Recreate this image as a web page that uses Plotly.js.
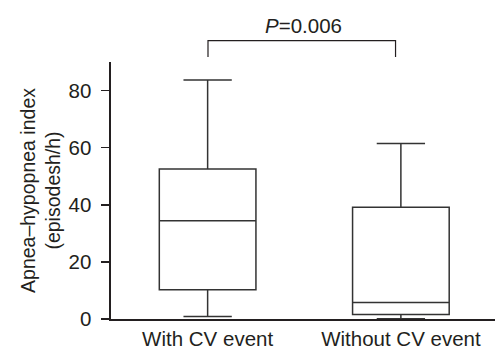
<!DOCTYPE html>
<html>
<head>
<meta charset="utf-8">
<script src="https://cdn.plot.ly/plotly-3.0.1.min.js"></script>
<style>html,body{margin:0;padding:0;background:#fff;}#chart{width:497px;height:350px;}</style>
</head>
<body>
<div id="chart"></div>
<script>
const categories = ["With CV event", "Without CV event"];
const q1 = [10.2, 1.6];
const medians = [34.4, 5.8];
const q3 = [52.5, 39.1];
const lowerFence = [0.9, 0.1];
const upperFence = [83.7, 61.5];
const yTicks = [0, 20, 40, 60, 80];
const pLabel = "<i>P</i>=0.006";

const txt = "#231f20";
const lineCol = "#333333";
const fontFam = "Liberation Sans, Arial, Helvetica, sans-serif";

const trace = {
  type: "box",
  x: categories,
  q1: q1,
  median: medians,
  q3: q3,
  lowerfence: lowerFence,
  upperfence: upperFence,
  width: 0.5,
  whiskerwidth: 0.5,
  fillcolor: "rgba(255,255,255,0)",
  line: {color: lineCol, width: 1.5},
  hoverinfo: "skip",
  showlegend: false
};

const layout = {
  width: 497, height: 350,
  margin: {l: 111, r: 2, t: 62, b: 31},
  paper_bgcolor: "#fff", plot_bgcolor: "#fff",
  font: {family: fontFam, color: txt, size: 20},
  xaxis: {
    type: "category",
    range: [-0.5, 1.487],
    showline: true, linecolor: txt, linewidth: 2,
    ticks: "", showgrid: false, zeroline: false,
    tickfont: {size: 20.5, color: txt}
  },
  yaxis: {
    range: [0, 90],
    tickvals: yTicks,
    ticktext: yTicks.map(String),
    showline: true, linecolor: txt, linewidth: 2.5,
    ticks: "outside", ticklen: 8, tickwidth: 1.5, tickcolor: txt,
    showgrid: false, zeroline: false,
    tickfont: {size: 20.5, color: txt},
    ticklabelstandoff: 5,
    title: {text: "Apnea–hypopnea index<br>(episodesh/h)", font: {size: 19.5, color: txt}, standoff: 3}
  },
  shapes: [
    {type: "path", xref: "paper", yref: "paper",
     path: "M 0.2526 1.019 L 0.2526 1.083 L 0.741 1.083 L 0.741 1.019",
     line: {color: txt, width: 1.2}}
  ],
  annotations: [
    {xref: "paper", yref: "paper", x: 0.5, y: 1.143, text: pLabel, showarrow: false,
     font: {size: 20.5, color: txt}, xanchor: "center", yanchor: "middle"}
  ]
};

Plotly.newPlot("chart", [trace], layout, {displayModeBar: false, staticPlot: true});
</script>
</body>
</html>
